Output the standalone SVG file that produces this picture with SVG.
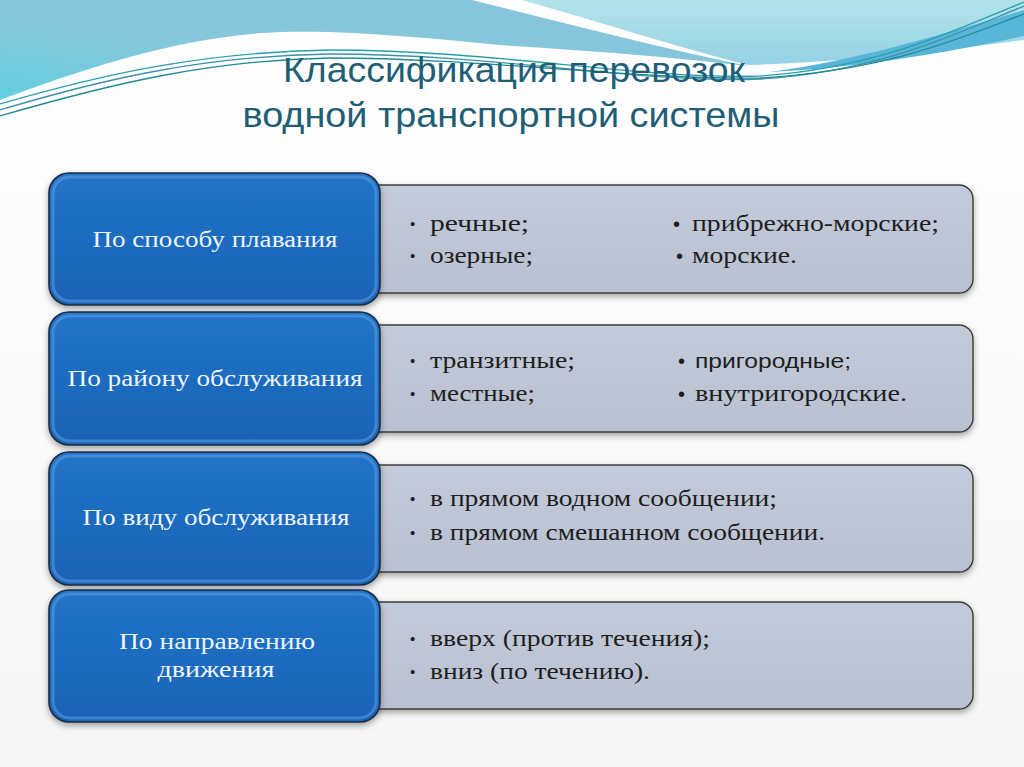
<svg xmlns="http://www.w3.org/2000/svg" width="1024" height="767" viewBox="0 0 1024 767">
<defs>
<linearGradient id="bgG" x1="0" y1="0" x2="0" y2="1"><stop offset="0" stop-color="#ffffff"/><stop offset="1" stop-color="#f6f6f6"/></linearGradient>
<linearGradient id="leftBlue" x1="0" y1="1" x2="1" y2="0"><stop offset="0" stop-color="#62cde0"/><stop offset="0.4" stop-color="#86c8db"/><stop offset="1" stop-color="#86c3dc"/></linearGradient>
<linearGradient id="rightCyan" x1="0" y1="0" x2="0" y2="1"><stop offset="0" stop-color="#b3e3ea"/><stop offset="1" stop-color="#94d2e6"/></linearGradient>
<linearGradient id="blueFill" x1="0" y1="0" x2="0" y2="1"><stop offset="0" stop-color="#2174c8"/><stop offset="1" stop-color="#1a63b6"/></linearGradient>
<linearGradient id="grayFill" x1="0" y1="0" x2="0" y2="1"><stop offset="0" stop-color="#c3cad9"/><stop offset="1" stop-color="#b9c0d0"/></linearGradient>
<filter id="sh" x="-5%" y="-5%" width="110%" height="120%"><feDropShadow dx="0" dy="3" stdDeviation="3" flood-color="#000" flood-opacity="0.35"/></filter>
</defs>
<style>
.blue{fill:url(#blueFill);stroke:#1c2c40;stroke-width:1.6}
.bevel{fill:none;stroke:#5b9fe2;stroke-width:3;opacity:0.55}
.gray{fill:url(#grayFill);stroke:#3c3c3c;stroke-width:1.4}
.graybev{fill:none;stroke:#e4e8f0;stroke-width:2;opacity:0.6}
.lbl{font-family:"Liberation Serif","DejaVu Serif",serif;font-size:23px;fill:#eef5ff;text-anchor:middle}
.itm{font-family:"Liberation Serif","DejaVu Serif",serif;font-size:24px;fill:#1e1e1e}
.itms{font-family:"Liberation Sans","Open Sans",sans-serif;font-size:21px;fill:#1e1e1e}
.b1{font-family:"Liberation Sans",sans-serif;font-size:15px;fill:#1e1e1e}
.b2{font-family:"Liberation Sans",sans-serif;font-size:20px;fill:#1e1e1e}
.title{font-family:"Liberation Sans","Open Sans",sans-serif;font-size:35px;fill:#1f5e76}
.wl{fill:none;stroke-width:1.3}
</style>
<rect width="1024" height="767" fill="url(#bgG)"/>
<g id="background-waves">
<path d="M0,0 H472 C560,22 660,48 748,66 C660,56 580,50 512,46 C430,38 330,28 262,33 C170,40 80,70 0,100 Z" fill="url(#leftBlue)"/>
<path d="M522,0 H1024 V40 C950,50 850,62 748,65 C680,48 600,22 522,0 Z" fill="url(#rightCyan)"/>
<path d="M770,72 C860,60 950,32 1024,10 V36 C950,52 860,68 770,72 Z" fill="#58b6d8"/>
<path class="wl" stroke="#2a9fae" d="M0,104 C100,75 200,52 330,50 C500,50 640,80 760,76 C880,68 960,28 1024,2"/>
<path class="wl" stroke="#3f8fa8" d="M0,110 C100,80 200,56 330,54 C500,54 640,84 760,79 C880,72 960,32 1024,6"/>
<path class="wl" stroke="#1f8a96" d="M0,116 C110,84 210,60 330,58 C480,58 640,80 760,78 C890,70 960,38 1024,14"/>
</g>
<g id="title">
<text class="title" x="514" y="82" text-anchor="middle" textLength="462" lengthAdjust="spacingAndGlyphs">Классификация перевозок</text>
<text class="title" x="511" y="127" text-anchor="middle" textLength="537" lengthAdjust="spacingAndGlyphs">водной транспортной системы</text>
</g>
<g id="connectors"/>
<g id="items-1" filter="url(#sh)">
<rect class="gray" x="356" y="185" width="617" height="108" rx="14"/>
</g>
<g id="items-1-text">
<text class="b1" x="410" y="229">•</text><text class="itm" x="430" y="231" textLength="99" lengthAdjust="spacingAndGlyphs">речные;</text>
<text class="b1" x="410" y="261">•</text><text class="itm" x="430" y="263" textLength="103" lengthAdjust="spacingAndGlyphs">озерные;</text>
<text class="b2" x="673" y="231">•</text><text class="itm" x="692" y="231" textLength="247" lengthAdjust="spacingAndGlyphs">прибрежно-морские;</text>
<text class="b2" x="676" y="263">•</text><text class="itm" x="692" y="263" textLength="105" lengthAdjust="spacingAndGlyphs">морские.</text>
</g>
<g id="items-2" filter="url(#sh)">
<rect class="gray" x="356" y="325" width="617" height="107" rx="14"/>
</g>
<g id="items-2-text">
<text class="b1" x="410" y="366">•</text><text class="itm" x="430" y="368" textLength="145" lengthAdjust="spacingAndGlyphs">транзитные;</text>
<text class="b1" x="410" y="399">•</text><text class="itm" x="430" y="401" textLength="105" lengthAdjust="spacingAndGlyphs">местные;</text>
<text class="b2" x="678" y="368">•</text><text class="itms" x="695" y="368" textLength="156" lengthAdjust="spacingAndGlyphs">пригородные;</text>
<text class="b2" x="678" y="401">•</text><text class="itm" x="695" y="401" textLength="212" lengthAdjust="spacingAndGlyphs">внутригородские.</text>
</g>
<g id="items-3" filter="url(#sh)">
<rect class="gray" x="356" y="465" width="617" height="107" rx="14"/>
</g>
<g id="items-3-text">
<text class="b1" x="410" y="504">•</text><text class="itm" x="430" y="506" textLength="347" lengthAdjust="spacingAndGlyphs">в прямом водном сообщении;</text>
<text class="b1" x="410" y="538">•</text><text class="itm" x="430" y="540" textLength="395" lengthAdjust="spacingAndGlyphs">в прямом смешанном сообщении.</text>
</g>
<g id="items-4" filter="url(#sh)">
<rect class="gray" x="356" y="602" width="617" height="107" rx="14"/>
</g>
<g id="items-4-text">
<text class="b1" x="410" y="644">•</text><text class="itm" x="430" y="646" textLength="280" lengthAdjust="spacingAndGlyphs">вверх (против течения);</text>
<text class="b1" x="410" y="677">•</text><text class="itm" x="430" y="679" textLength="220" lengthAdjust="spacingAndGlyphs">вниз (по течению).</text>
</g>
<g id="category-1">
<rect class="blue" x="49" y="173" width="331" height="132" rx="20" filter="url(#sh)"/>
<rect class="bevel" x="53" y="177" width="323" height="124" rx="17"/>
<text class="lbl" x="215" y="247" textLength="245" lengthAdjust="spacingAndGlyphs">По способу плавания</text>
</g>
<g id="category-2">
<rect class="blue" x="49" y="312" width="331" height="133" rx="20" filter="url(#sh)"/>
<rect class="bevel" x="53" y="316" width="323" height="125" rx="17"/>
<text class="lbl" x="215" y="386" textLength="295" lengthAdjust="spacingAndGlyphs">По району обслуживания</text>
</g>
<g id="category-3">
<rect class="blue" x="49" y="452" width="331" height="133" rx="20" filter="url(#sh)"/>
<rect class="bevel" x="53" y="456" width="323" height="125" rx="17"/>
<text class="lbl" x="216" y="525" textLength="267" lengthAdjust="spacingAndGlyphs">По виду обслуживания</text>
</g>
<g id="category-4">
<rect class="blue" x="49" y="590" width="331" height="132" rx="20" filter="url(#sh)"/>
<rect class="bevel" x="53" y="594" width="323" height="124" rx="17"/>
<text class="lbl" x="217" y="649" textLength="196" lengthAdjust="spacingAndGlyphs">По направлению</text>
<text class="lbl" x="216" y="677" textLength="117" lengthAdjust="spacingAndGlyphs">движения</text>
</g>
</svg>
